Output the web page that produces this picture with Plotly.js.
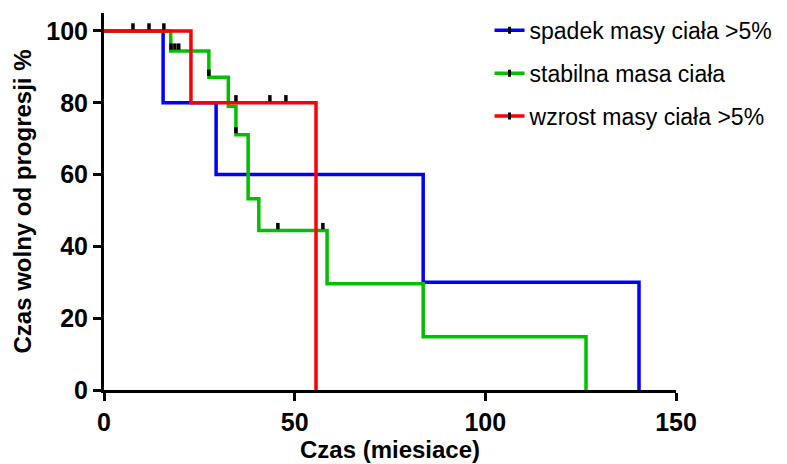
<!DOCTYPE html>
<html>
<head>
<meta charset="utf-8">
<script src="https://cdn.plot.ly/plotly-3.0.1.min.js"></script>
<style>html,body{margin:0;padding:0;background:#fff;}#chart{width:787px;height:464px;}</style>
</head>
<body>
<div id="chart"></div>
<script>
// Kaplan-Meier step data (time in months, survival %)
const seriesNames = ["spadek masy ciała >5%", "stabilna masa ciała", "wzrost masy ciała >5%"];
const seriesColors = ["#0000FF", "#00C000", "#FF0000"];

const blueTimes = [0, 15.5, 29.4, 83.7, 140.3];
const blueSurv  = [100, 80, 60, 30, 0];
const blueCensT = [];
const blueCensY = [];

const greenTimes = [0, 17.5, 27.5, 32.6, 34.6, 37.8, 40.6, 58.5, 83.7, 126.4];
const greenSurv  = [100, 94.4, 87.1, 79.0, 71.1, 53.3, 44.4, 29.6, 14.8, 0];
const greenCensT = [17.6, 18.6, 19.6, 27.5, 34.6, 45.6, 57.4];
const greenCensY = [94.4, 94.4, 94.4, 87.1, 71.1, 44.4, 44.4];

const redTimes = [0, 22.8, 55.6];
const redSurv  = [100, 80, 0];
const redCensT = [7.6, 11.8, 15.7, 34.6, 43.5, 47.7];
const redCensY = [100, 100, 100, 80, 80, 80];

const xTicks = [0, 50, 100, 150];
const yTicks = [0, 20, 40, 60, 80, 100];

const FONT = 'Arial, "Liberation Sans", Helvetica, sans-serif';
const yRange = [0, 105];
const plotH = 464 - 13 - 74;
const markOffset = 4.5 * (yRange[1] - yRange[0]) / plotH; // lift censor ticks above line

const groups = [
  {t: blueTimes, s: blueSurv, ct: blueCensT, cy: blueCensY},
  {t: greenTimes, s: greenSurv, ct: greenCensT, cy: greenCensY},
  {t: redTimes, s: redSurv, ct: redCensT, cy: redCensY}
];

const traces = [];
groups.forEach((g, i) => {
  traces.push({
    x: g.t, y: g.s, type: 'scatter', mode: 'lines',
    line: {shape: 'hv', color: seriesColors[i], width: 3.5},
    showlegend: false, hoverinfo: 'skip'
  });
  traces.push({
    x: g.ct, y: g.cy.map(v => v + markOffset), type: 'scatter', mode: 'markers',
    marker: {symbol: 'line-ns', size: 4.5, color: '#000', line: {color: '#000', width: 3.5}},
    showlegend: false, hoverinfo: 'skip', cliponaxis: false
  });
});
// legend entries
groups.forEach((g, i) => {
  traces.push({
    x: [null], y: [null], type: 'scatter', mode: 'lines+markers',
    name: seriesNames[i], legendgroup: 'g' + i,
    line: {color: seriesColors[i], width: 3.5},
    marker: {symbol: 'line-ns', size: 5, color: '#000', line: {color: '#000', width: 3}}
  });
});

const layout = {
  width: 787, height: 464,
  margin: {l: 104, r: 111, t: 13, b: 74, autoexpand: false},
  paper_bgcolor: '#fff', plot_bgcolor: '#fff',
  font: {family: FONT, color: '#000'},
  showlegend: true,
  legend: {
    x: 0.674, xanchor: 'left', y: 1.011, yanchor: 'top',
    font: {family: FONT, size: 23, color: '#000'},
    bgcolor: 'rgba(0,0,0,0)', tracegroupgap: 10, itemwidth: 30
  },
  xaxis: {
    range: [0, 150], tickvals: xTicks, ticktext: xTicks.map(String),
    showgrid: false, zeroline: false, showline: true, linecolor: '#000', linewidth: 3,
    ticks: 'outside', ticklen: 8, tickwidth: 3, tickcolor: '#000',
    tickfont: {family: FONT, size: 25, color: '#000', weight: 'bold'},
    title: {text: '<b>Czas (miesiace)</b>', font: {family: FONT, size: 24, color: '#000'}, standoff: 6},
    fixedrange: true
  },
  yaxis: {
    range: yRange, tickvals: yTicks, ticktext: yTicks.map(String),
    showgrid: false, zeroline: false, showline: true, linecolor: '#000', linewidth: 3,
    ticks: 'outside', ticklen: 8, tickwidth: 3, tickcolor: '#000',
    tickfont: {family: FONT, size: 25, color: '#000', weight: 'bold'},
    title: {text: '<b>Czas wolny od progresji %</b>', font: {family: FONT, size: 24, color: '#000'}, standoff: 8},
    fixedrange: true
  }
};

Plotly.newPlot('chart', traces, layout, {displayModeBar: false, staticPlot: true});
</script>
</body>
</html>
